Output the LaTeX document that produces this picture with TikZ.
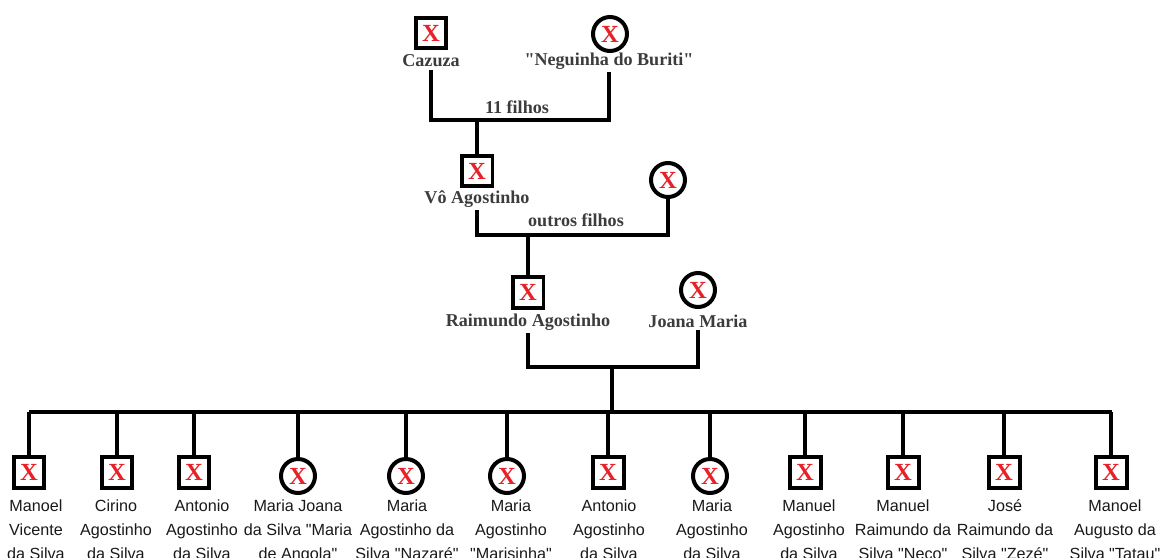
\documentclass[tikz,border=0pt]{standalone}
\usepackage{fontspec}
\setmainfont{Liberation Serif}
\setsansfont{Liberation Sans}
\usepackage{tikz}
\usetikzlibrary{positioning}
\definecolor{xred}{RGB}{232,32,40}
\definecolor{namegray}{RGB}{60,60,60}
\newcommand\dq{\textquotedbl}

\begin{document}
\begin{tikzpicture}[x=0.02cm,y=-0.02cm,
  link/.style={line width=0.08cm},
  male/.style={draw,line width=0.08cm,rectangle,minimum size=0.62cm,inner sep=0pt,
    text=xred,font=\bfseries\fontsize{14}{14}\selectfont},
  female/.style={draw,line width=0.08cm,circle,minimum size=0.68cm,inner sep=0pt,
    text=xred,font=\bfseries\fontsize{14}{14}\selectfont},
  pname/.style={text=namegray,inner sep=1.5pt,font=\bfseries\fontsize{10.3}{12}\selectfont},
  note/.style={text=namegray,inner sep=1pt,font=\bfseries\fontsize{10.3}{12}\selectfont},
  kid/.style={anchor=base,align=center,inner sep=0pt,text=black!90,
    font=\sffamily\fontsize{9.2}{13.6}\selectfont}]
  \useasboundingbox (0,0) rectangle (1161,558);

  % bisavos
  \node[male]   (cazuza)     at (431,33)  {X};
  \node[female] (neguinha)   at (610,34)  {X};
  \node[pname]  (cazuza-n)   at (431,61)  {Cazuza};
  \node[pname]  (neguinha-n) at (609,61)  {\dq Neguinha do Buriti\dq};
  \coordinate (casal1) at (477,120);
  \node[note]   (filhos1)    at (517,107) {11 filhos};

  % avos
  \node[male]   (agostinho)   at (477,171) {X};
  \node[pname]  (agostinho-n) at (477,199) {Vô Agostinho};
  \node[female] (avo)         at (668,180) {X};
  \coordinate (casal2) at (528,235);
  \node[note]   (filhos2)     at (576,220) {outros filhos};

  % pais
  \node[male]   (raimundo)   at (528,292) {X};
  \node[pname]  (raimundo-n) at (528,322) {Raimundo Agostinho};
  \node[female] (joana)      at (698,290) {X};
  \node[pname]  (joana-n)    at (698,321) {Joana Maria};
  \coordinate (casal3) at (612,367);
  \coordinate (bar)    at (612,412);
  \coordinate (barL)   at (29,412);
  \coordinate (barR)   at (1112,412);

  % filhos
  \node[male]   (c1)  at (29,472)   {X};
  \node[male]   (c2)  at (117,472)  {X};
  \node[male]   (c3)  at (194,472)  {X};
  \node[female] (c4)  at (298,476)  {X};
  \node[female] (c5)  at (406,476)  {X};
  \node[female] (c6)  at (507,476)  {X};
  \node[male]   (c7)  at (608,472)  {X};
  \node[female] (c8)  at (710,476)  {X};
  \node[male]   (c9)  at (805,472)  {X};
  \node[male]   (c10) at (903,472)  {X};
  \node[male]   (c11) at (1004,472) {X};
  \node[male]   (c12) at (1111,472) {X};

  \node[kid] (c1-n)  at (36,559)   {Manoel\\Vicente\\da Silva};
  \node[kid] (c2-n)  at (116,559)  {Cirino\\Agostinho\\da Silva};
  \node[kid] (c3-n)  at (202,559)  {Antonio\\Agostinho\\da Silva};
  \node[kid] (c4-n)  at (298,559)  {Maria Joana\\da Silva \dq Maria\\de Angola\dq};
  \node[kid] (c5-n)  at (407,559)  {Maria\\Agostinho da\\Silva \dq Nazaré\dq};
  \node[kid] (c6-n)  at (511,559)  {Maria\\Agostinho\\\dq Marisinha\dq};
  \node[kid] (c7-n)  at (609,559)  {Antonio\\Agostinho\\da Silva};
  \node[kid] (c8-n)  at (712,559)  {Maria\\Agostinho\\da Silva};
  \node[kid] (c9-n)  at (809,559)  {Manuel\\Agostinho\\da Silva};
  \node[kid] (c10-n) at (903,559)  {Manuel\\Raimundo da\\Silva \dq Neco\dq};
  \node[kid] (c11-n) at (1005,559) {José\\Raimundo da\\Silva \dq Zezé\dq};
  \node[kid] (c12-n) at (1115,559) {Manoel\\Augusto da\\Silva \dq Tatau\dq};

  \draw[link] (cazuza-n.south) |- (casal1) -| (neguinha-n.south);
  \draw[link] (casal1) -- (agostinho);
  \draw[link] (agostinho-n.south) |- (casal2) -| (avo);
  \draw[link] (casal2) -- (raimundo);
  \draw[link] (raimundo-n.south) |- (casal3) -| (joana-n.south);
  \draw[link] (casal3) -- (bar);
  \draw[link] (barL) -- (barR);
  \path[link] (c1)  edge (c1 |- bar)
              (c2)  edge (c2 |- bar)
              (c3)  edge (c3 |- bar)
              (c4)  edge (c4 |- bar)
              (c5)  edge (c5 |- bar)
              (c6)  edge (c6 |- bar)
              (c7)  edge (c7 |- bar)
              (c8)  edge (c8 |- bar)
              (c9)  edge (c9 |- bar)
              (c10) edge (c10 |- bar)
              (c11) edge (c11 |- bar)
              (c12) edge (c12 |- bar);
\end{tikzpicture}
\end{document}
